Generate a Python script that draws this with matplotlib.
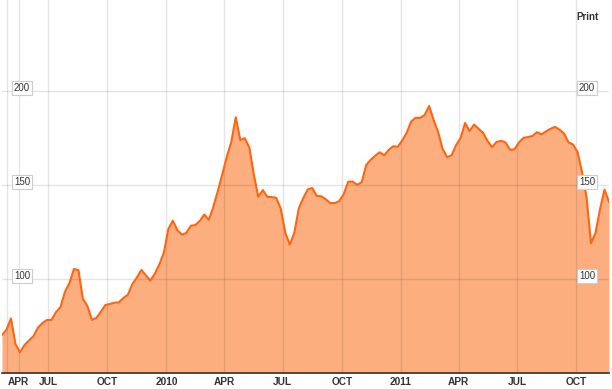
import matplotlib
matplotlib.use("Agg")
import matplotlib.pyplot as plt
import pandas as pd

plt.rcParams["font.family"] = ["Liberation Sans", "DejaVu Sans"]

# weekly closes
start_date = "2009-04-20"
close = [
    70.2, 73.0, 79.0, 65.4, 61.0, 64.8, 67.3, 69.6, 74.1, 76.6,
    78.2, 78.2, 82.3, 85.0, 93.1, 97.8, 105.3, 104.7, 89.4, 85.6,
    78.2, 79.3, 82.6, 86.2, 86.7, 87.4, 87.6, 89.9, 91.6, 97.3,
    100.8, 104.8, 101.9, 99.2, 102.8, 107.7, 114.0, 126.6, 131.0, 126.0,
    123.6, 124.5, 128.3, 128.7, 130.9, 134.3, 131.5, 138.3, 146.7, 155.7,
    165.0, 172.9, 186.0, 173.9, 174.9, 170.0, 155.7, 143.7, 147.3, 143.7,
    143.6, 143.1, 137.4, 124.7, 118.3, 124.4, 137.4, 143.0, 147.6, 148.4,
    144.2, 144.0, 142.4, 140.4, 140.4, 141.4, 145.1, 151.7, 151.8, 150.1,
    151.4, 160.6, 163.4, 165.5, 167.4, 165.8, 168.6, 170.6, 170.3, 173.6,
    177.7, 183.8, 185.7, 185.7, 187.2, 192.0, 184.6, 178.2, 169.2, 164.8,
    165.8, 171.2, 175.0, 183.0, 178.7, 182.1, 179.9, 177.7, 173.4, 170.1,
    172.9, 173.5, 172.6, 168.7, 169.0, 172.7, 175.1, 175.5, 176.1, 178.1,
    176.9, 178.5, 179.9, 180.9, 179.4, 177.4, 172.7, 171.5, 167.6, 157.0,
    143.6, 119.0, 124.5, 137.0, 147.5, 141.0,
]
dates = pd.date_range(start_date, periods=len(close), freq="7D")

tick_dates = ["2009-05-16", "2009-07-01", "2009-10-01", "2010-01-01", "2010-04-01",
              "2010-07-01", "2010-10-01", "2011-01-01", "2011-04-01", "2011-07-01",
              "2011-10-01"]
tick_labels = ["APR", "JUL", "OCT", "2010", "APR", "JUL", "OCT", "2011", "APR", "JUL", "OCT"]
extra_grid = ["2009-04-28"]
y_levels = [100, 150, 200]

LINE = "#ff6410"
FILL = "#fcae7e"

fig = plt.figure(figsize=(6.12, 3.89), dpi=100)
ax = fig.add_axes([2 / 612, 16 / 389, 607 / 612, 373 / 389])

ax.fill_between(dates, close, 50, color=FILL, linewidth=0, zorder=1)
ax.plot(dates, close, color=LINE, linewidth=1.5, zorder=3)

ax.set_xlim(dates[0], dates[-1])
ax.set_ylim(50, 248.4)

ax.set_xticks(pd.to_datetime(tick_dates))
ax.set_xticklabels(tick_labels, fontsize=7.3, fontweight="bold", color="#333333")
ax.set_xticks(pd.to_datetime(extra_grid), minor=True)
ax.set_yticks(y_levels)
ax.set_yticklabels([])
ax.tick_params(axis="both", which="both", length=0)
ax.tick_params(axis="x", pad=3)

ax.set_axisbelow(False)
ax.grid(True, which="both", color="#000000", alpha=0.1, linewidth=1, zorder=2)

for s in ["top", "left", "right"]:
    ax.spines[s].set_visible(False)
ax.spines["bottom"].set_color("#333333")
ax.spines["bottom"].set_linewidth(1.2)
ax.spines["bottom"].set_zorder(4)

box = dict(boxstyle="square,pad=0.22", facecolor="white", edgecolor="#cccccc", linewidth=0.8)
for lv in y_levels:
    for xf in (20 / 607, 585 / 607):
        ax.annotate(str(lv), xy=(xf, lv), xycoords=("axes fraction", "data"),
                    xytext=(0, 2.2), textcoords="offset points",
                    ha="center", va="center", fontsize=7, color="#333333",
                    bbox=box, zorder=5)

fig.text(576 / 612, 1 - 16.5 / 389, "Print", ha="left", va="center",
         fontsize=7, fontweight="bold", color="#333333")

fig.savefig("out.png", dpi=100, facecolor="white")
